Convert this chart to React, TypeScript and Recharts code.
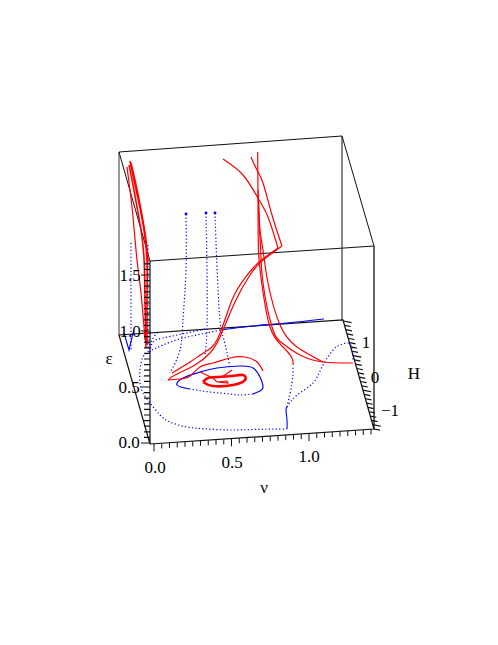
import React from "react";
import { ComposedChart, Line, XAxis, YAxis, ReferenceDot } from "recharts";

type P = [number, number];
const W = 498, H = 645;
const RED = "#ff0000", BLUE = "#0000ff";

// box edges
const boxTop: P[] = [[119, 152], [342, 136], [374, 246], [150, 261], [119, 152]];
const boxFloorBack: P[] = [[150, 261], [150, 444], [119, 335], [343, 320], [374, 429], [150, 444]];
const boxBackRight: P[] = [[342, 136], [342, 320]];
const boxGrayLeft: P[] = [[119, 152], [119, 335]];
const boxGrayRight: P[] = [[374, 246], [374, 429]];

// red trajectories
const redThickA: P[] = [[130, 161], [134, 180], [139, 203], [144, 230], [147, 262], [147, 300], [147, 345]];
const redThickB: P[] = [[129, 165], [133, 185], [137, 207], [141, 230], [144, 258], [145, 300], [146, 348]];
const redThickC: P[] = [[131, 163], [136, 185], [141, 210], [146, 240], [148, 262]];
const redLeftThin: P[] = [[127, 167], [130, 190], [133, 217], [137, 260], [141, 293], [145, 340]];
const redTopA: P[] = [[251, 157], [257, 170], [263, 183], [272, 215], [282, 246]];
const redTopB: P[] = [[223, 159], [243, 175], [258, 198], [268, 217], [278, 248]];
const redWingA: P[] = [[282, 246], [262, 261], [250, 275], [235, 302], [220, 337], [210, 353], [195, 365], [175, 375], [168, 380]];
const redWingB: P[] = [[278, 248], [258, 263], [245, 278], [232, 300], [218, 338], [205, 352], [190, 362], [172, 373]];
const redOuterLoop: P[] = [[168, 380], [180, 379], [190, 376], [200, 367], [213, 363], [230, 358], [245, 357], [257, 362], [263, 371]];
const redDownA: P[] = [[257.7, 152], [258, 200], [258.5, 250], [261.7, 283], [270, 327], [283, 347], [292, 358], [293, 365]];
const redDownB: P[] = [[258.5, 200], [259.5, 230], [260.7, 250], [263, 283], [272, 327], [282, 343], [300, 355], [323, 362], [353, 363]];
const redDownC: P[] = [[258, 190], [260, 230], [263, 250], [268, 283], [280, 325], [297, 347], [323, 362]];
const redCoil: P[] = [[203, 382], [208, 378], [217, 377], [232, 376], [243, 375], [245, 380], [233, 385], [213, 386], [203, 382]];
const redCoilInner: P[] = [[217, 382], [227, 381], [228, 383], [217, 382]];
const redStubA: P[] = [[200, 372], [213, 378], [217, 382]];
const redStubB: P[] = [[232, 370], [222, 377]];

// blue trajectories
const blueRidge: P[] = [[152, 350], [163, 345], [183, 338], [207, 333], [220, 330]];
const blueRidgeSolid: P[] = [[220, 330], [253, 326], [287, 323], [324, 319]];
const blueRidgeUpper: P[] = [[150, 352], [153, 342], [163, 338], [182, 334], [205, 329]];
const blueAxisDots: P[] = [[148, 245], [148, 300], [148, 350]];
const blueCluster: P[] = [[148, 352], [152, 340], [158, 332]];
const blueFarLeft: P[] = [[131, 243], [131, 260], [131, 303], [131, 350]];
const blueV: P[] = [[124, 333], [129, 350], [133, 333]];
const blueRise1: P[] = [[186, 214], [186, 270], [183, 320], [180, 350], [170, 373]];
const blueRise2: P[] = [[206, 213], [207, 270], [207, 327], [205, 356]];
const blueRise3: P[] = [[215, 213], [217, 267], [220, 320], [224, 340], [230, 367]];
const blueFloorOuter: P[] = [[150, 352], [143, 357], [140, 370], [140, 383], [143, 393], [150, 403], [160, 415], [170, 422], [187, 427], [207, 429], [230, 430], [253, 429.5], [287, 429]];
const blueRiseSolid: P[] = [[287, 429], [287, 420], [286, 410], [287, 407]];
const blueBranchA: P[] = [[287, 407], [292, 383], [293, 367]];
const blueBranchB: P[] = [[287, 407], [297, 395], [313, 383], [322, 367], [333, 350], [340, 345], [350, 344], [353, 360]];
const blueLoopSolid: P[] = [[190, 389], [177, 385], [183, 378], [197, 373], [217, 368], [240, 366], [253, 368], [260, 377], [263, 387], [260, 391], [253, 394]];
const blueLoopDotted: P[] = [[253, 394], [240, 395], [230, 394], [210, 392], [190, 389]];

const riseTops: P[] = [[186, 214], [206, 213], [215, 213]];

// labels
const epsTicks = ["0.0", "0.5", "1.0", "1.5"];
const epsTickPos: P[] = [[129, 442], [129, 387], [130, 331], [130, 275]];
const nuTicks = ["0.0", "0.5", "1.0"];
const nuTickPos: P[] = [[155, 467], [232, 462], [309, 456]];
const hTicks = ["1", "0", "\u22121"];
const hTickPos: P[] = [[366, 342], [375, 377], [390, 410]];
const axisTitles = ["\u03b5", "\u03bd", "H"];
const axisTitlePos: P[] = [[109, 358], [264, 487], [414, 373]];

type Row = { x: number; y: number | null };
const toRows = (pts: P[]): Row[] => pts.map(([x, y]) => ({ x, y }));

// axis tick marks, broken with nulls
const buildTicks = (
  n: number, start: P, step: P, minor: P, major: P, every: number, offset: number
): Row[] => {
  const rows: Row[] = [];
  for (let i = 0; i <= n; i++) {
    const x = start[0] + step[0] * i;
    const y = start[1] + step[1] * i;
    const t = (i - offset) % every === 0 ? major : minor;
    rows.push({ x, y }, { x: x + t[0], y: y + t[1] }, { x, y: null });
  }
  return rows;
};
const epsTickMarks = buildTicks(32, [150, 443], [0, -5.6], [-6, 0], [-9, 0], 10, 0);
const nuTickMarks = buildTicks(28, [154, 444], [7.75, -0.52], [0, 5], [0, 7.5], 10, 0);
const hTickMarks = buildTicks(25, [343.5, 321], [1.22, 4.32], [6, 1.2], [8, 1.6], 8, 0);

const sans = "'Liberation Serif', 'Times New Roman', serif";

const solid = (key: string, pts: P[], stroke: string, w: number, type: any = "natural", dash?: string) => (
  <Line
    key={key}
    data={toRows(pts)}
    dataKey="y"
    type={type}
    stroke={stroke}
    strokeWidth={w}
    strokeDasharray={dash}
    dot={false}
    activeDot={false}
    legendType="none"
    isAnimationActive={false}
  />
);

const DOT = "1.2 2.3";
const label = (key: string, p: P, text: string, size = 17) => (
  <ReferenceDot
    key={key}
    x={p[0]}
    y={p[1]}
    r={0}
    fill="none"
    stroke="none"
    ifOverflow="visible"
    label={{ value: text, position: "center", fontFamily: sans, fontSize: size, fill: "#000" }}
  />
);

export default function App() {
  return (
    <div style={{ position: "absolute", left: 0, top: 0, width: W, height: H, background: "#fff" }}>
      <ComposedChart width={W} height={H} margin={{ top: 0, right: 0, bottom: 0, left: 0 }}>
        <XAxis type="number" dataKey="x" domain={[0, W]} hide allowDataOverflow />
        <YAxis type="number" domain={[0, H]} reversed hide allowDataOverflow />

        {solid("boxGrayL", boxGrayLeft, "#555", 1.2, "linear")}
        {solid("boxGrayR", boxGrayRight, "#666", 2, "linear")}
        {solid("boxTop", boxTop, "#111", 1, "linear")}
        {solid("boxBack", boxBackRight, "#111", 1, "linear")}
        {solid("boxFloor", boxFloorBack, "#111", 1.2, "linear")}

        {[
          ["rd1", blueRidge], ["ru", blueRidgeUpper], ["ad", blueAxisDots], ["cl", blueCluster],
          ["fl", blueFarLeft], ["r1", blueRise1], ["r2", blueRise2], ["r3", blueRise3],
          ["fo", blueFloorOuter], ["ba", blueBranchA], ["bb", blueBranchB], ["ld", blueLoopDotted],
        ].map(([k, p]) => solid(k as string, p as P[], BLUE, 1.2, "natural", DOT))}
        {solid("rs", blueRidgeSolid, BLUE, 1.1)}
        {solid("v", blueV, BLUE, 1.1, "linear")}
        {solid("rise", blueRiseSolid, BLUE, 1.1)}
        {solid("ls", blueLoopSolid, BLUE, 1.2)}
        <Line
          data={toRows(riseTops)}
          dataKey="y"
          stroke="none"
          dot={{ r: 1.4, fill: BLUE, stroke: "none" }}
          activeDot={false}
          isAnimationActive={false}
        />

        {solid("tA", redThickA, RED, 1.6)}
        {solid("tB", redThickB, RED, 1.6)}
        {solid("tC", redThickC, RED, 1.6)}
        {solid("lt", redLeftThin, RED, 1.2)}
        {solid("topA", redTopA, RED, 1.2)}
        {solid("topB", redTopB, RED, 1.2)}
        {solid("wA", redWingA, RED, 1.2)}
        {solid("wB", redWingB, RED, 1.2)}
        {solid("ol", redOuterLoop, RED, 1.2)}
        {solid("dA", redDownA, RED, 1.2)}
        {solid("dB", redDownB, RED, 1.2)}
        {solid("dC", redDownC, RED, 1.2)}
        {solid("coil", redCoil, RED, 2.6)}
        {solid("coilI", redCoilInner, RED, 1.1, "linear")}
        {solid("stA", redStubA, RED, 1.1, "linear")}
        {solid("stB", redStubB, RED, 1.1, "linear")}

        <Line data={epsTickMarks} dataKey="y" stroke="#111" strokeWidth={1.2} dot={false} activeDot={false} isAnimationActive={false} />
        <Line data={nuTickMarks} dataKey="y" stroke="#111" strokeWidth={1} dot={false} activeDot={false} isAnimationActive={false} />
        <Line data={hTickMarks} dataKey="y" stroke="#111" strokeWidth={1.2} dot={false} activeDot={false} isAnimationActive={false} />

        {epsTicks.map((t, i) => label(`e${i}`, epsTickPos[i], t))}
        {nuTicks.map((t, i) => label(`n${i}`, nuTickPos[i], t))}
        {hTicks.map((t, i) => label(`h${i}`, hTickPos[i], t))}
        {axisTitles.map((t, i) => label(`t${i}`, axisTitlePos[i], t))}
      </ComposedChart>
    </div>
  );
}
